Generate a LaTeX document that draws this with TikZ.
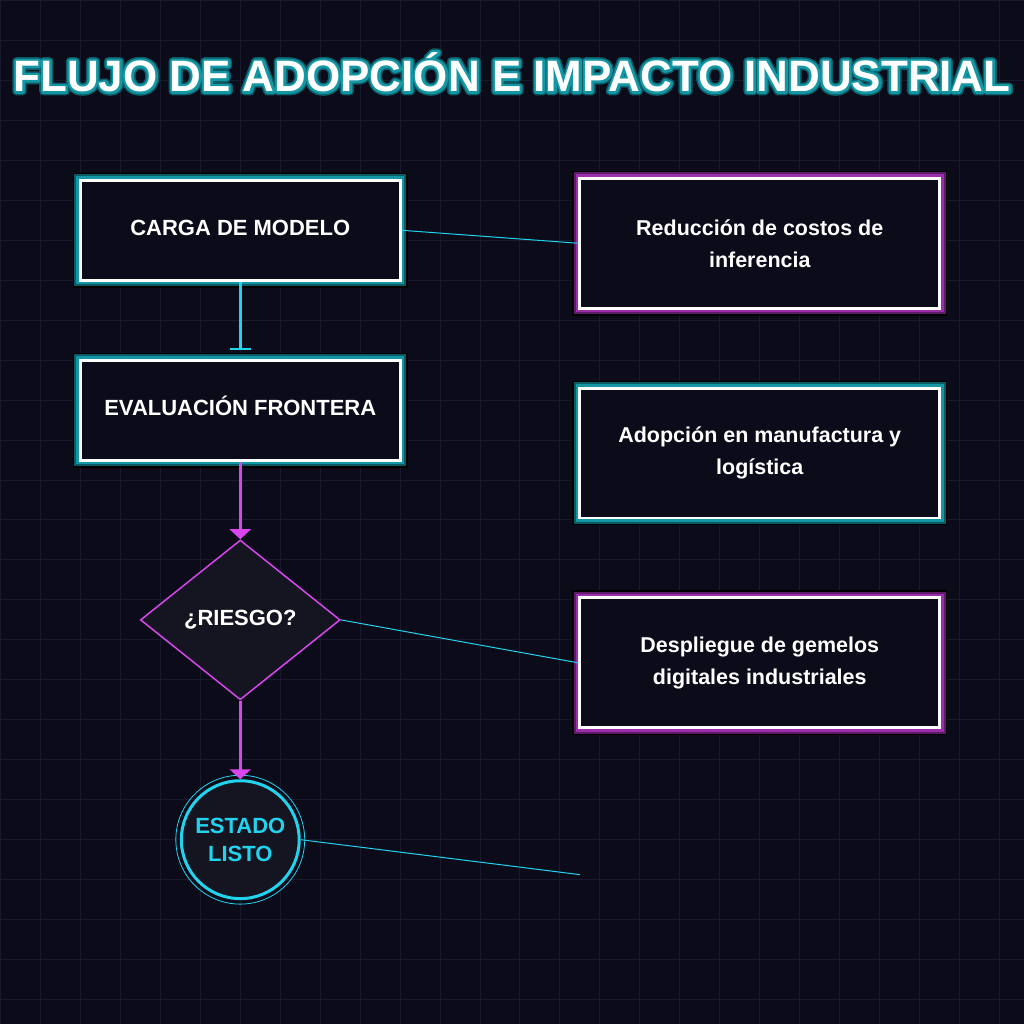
\documentclass[tikz,border=0pt]{standalone}
\usepackage{fontspec}
\setmainfont{Liberation Sans}
\newfontface\titleglowA{Liberation Sans Bold}[RawFeature={embolden=18}]
\newfontface\titleglowB{Liberation Sans Bold}[RawFeature={embolden=11}]
\definecolor{bgdark}{HTML}{0B0B1A}
\definecolor{gridc}{HTML}{1A1A2E}
\definecolor{nodefill}{HTML}{151522}
\definecolor{neoncyan}{HTML}{22D3EE}
\definecolor{neonpink}{HTML}{D946EF}
\definecolor{tealA}{HTML}{1497A5}
\definecolor{tealB}{HTML}{0C5A63}
\definecolor{purpA}{HTML}{9A2FA9}
\definecolor{purpB}{HTML}{5E1A6B}
\usetikzlibrary{arrows.meta,positioning,shapes.geometric,calc}

\begin{document}
\begin{tikzpicture}[x=1pt,y=-1pt,
  ttl/.style={font=\fontsize{44}{50}\selectfont\bfseries,inner sep=0pt,anchor=base},
  box/.style={draw=white,line width=3pt,fill=bgdark,inner sep=0pt,text=white,font=\fontsize{22}{32}\selectfont\bfseries,align=center},
  stepbox/.style={box,minimum width=320pt,minimum height=100pt,text height=16pt,text depth=6pt},
  impact/.style={box,minimum width=360pt,minimum height=130pt,font=\fontsize{21.5}{32}\selectfont\bfseries},
  tealglow/.style={preaction={draw=black,line width=15pt},preaction={draw=tealB,line width=12pt},preaction={draw=tealA,line width=8pt}},
  purpglow/.style={preaction={draw=black,line width=15pt},preaction={draw=purpB,line width=12pt},preaction={draw=purpA,line width=8pt}},
  flow/.style={draw=neonpink,line width=3pt,-{Triangle[width=21pt,length=10pt]}},
  link/.style={draw=neoncyan,line width=1pt}]
  % background and grid
  \fill[bgdark] (0,0) rectangle (1024,1024);
  \draw[gridc,line width=1pt] (0,0) grid[step=40pt] (1024,1024);
  % title
  \begin{scope}[line join=round]
    \node[ttl,text=tealB,font=\fontsize{44}{50}\titleglowA] (titleglow) at (512,91) {FLUJO DE ADOPCIÓN E IMPACTO INDUSTRIAL};
    \node[ttl,text=tealA,font=\fontsize{44}{50}\titleglowB] (titleedge) at (512,91) {FLUJO DE ADOPCIÓN E IMPACTO INDUSTRIAL};
  \end{scope}
  \node[ttl,text=white] (title) at (512,91) {FLUJO DE ADOPCIÓN E IMPACTO INDUSTRIAL};
  % flow
  \node[stepbox,tealglow] (carga) at (240,230) {CARGA DE MODELO};
  \node[stepbox,tealglow] (evalf) at (240,410) {EVALUACIÓN FRONTERA};
  \node[diamond,draw=neonpink,line width=1.5pt,fill=nodefill,minimum width=200pt,minimum height=160pt,inner sep=0pt,text=white,font=\fontsize{22}{26}\selectfont\bfseries] (riesgo) at (240,620) {¿RIESGO?};
  \node[circle,draw=neoncyan,line width=3pt,fill=nodefill,minimum size=118pt,inner sep=0pt,text=neoncyan,align=center,font=\fontsize{22}{28}\selectfont\bfseries] (listo) at (240,840) {ESTADO\\LISTO};
  \draw[neoncyan,line width=0.8pt] (listo.center) circle[radius=64.5pt];
  % impacts
  \node[impact,purpglow] (costos) at (760,243) {Reducción de costos de\\inferencia};
  \node[impact,tealglow] (adopcion) at (760,453) {Adopción en manufactura y\\logística};
  \node[impact,purpglow] (gemelos) at (760,663) {Despliegue de gemelos\\digitales industriales};
  \coordinate (libre) at (580,875);
  % connectors
  \draw[neoncyan,line width=3pt,-{Bar[width=21pt,line width=2pt]},shorten >=9pt] (carga) -- (evalf);
  \draw[flow] (evalf) -- (riesgo);
  \draw[flow] (riesgo) -- (listo);
  \draw[link] (carga.east) -- (costos.west);
  \draw[link] (riesgo.east) -- (gemelos.west);
  \draw[link] (listo.east) -- (libre);
\end{tikzpicture}
\end{document}
